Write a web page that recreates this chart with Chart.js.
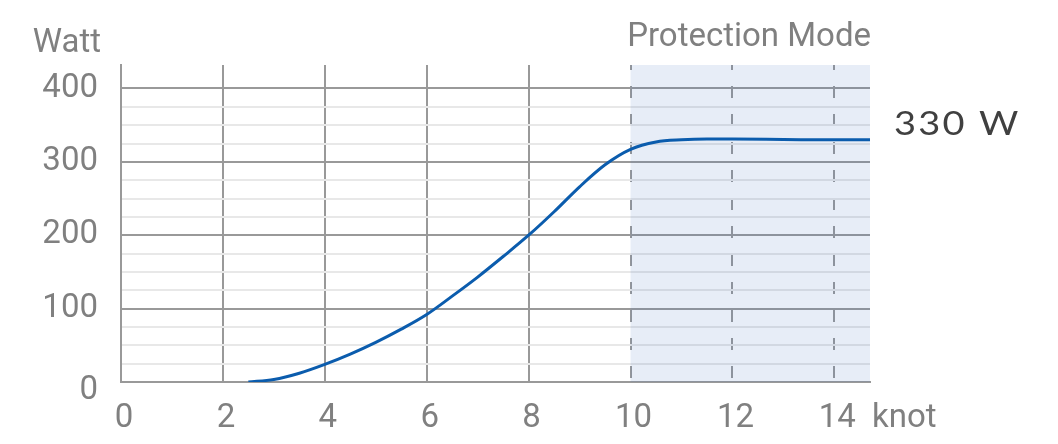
<!DOCTYPE html>
<html>
<head>
<meta charset="utf-8">
<script src="https://cdn.jsdelivr.net/npm/chart.js@4/dist/chart.umd.min.js"></script>
<style>
  html, body { margin: 0; padding: 0; background: #ffffff; }
  #wrap { width: 1058px; height: 444px; position: relative; }
</style>
</head>
<body>
<div id="wrap"><canvas id="c"></canvas></div>
<script>
// ---- data ----
const windKnots = [2.5, 3, 3.5, 4, 4.5, 5, 5.5, 6, 6.5, 7, 7.5, 8, 8.5, 9, 9.5, 10, 10.5, 11, 11.5, 12, 13, 14, 14.7];
const powerWatt = [0, 3.5, 12, 24, 38, 54, 72, 92, 117, 143, 171, 200, 232, 266, 296, 317, 327, 330, 331, 331, 330.5, 330, 330];
const xTicks = [0, 2, 4, 6, 8, 10, 12, 14];
const yTicks = [0, 25, 50, 75, 100, 125, 150, 175, 200, 225, 250, 275, 300, 325, 350, 375, 400];
const yMajorTicks = [0, 100, 200, 300, 400];
const xMin = 0, xMax = 14.7;
const yMin = 0, yMax = 432;
const protectionStart = 10;
const yUnit = 'Watt';
const xUnit = 'knot';
const bandLabel = 'Protection Mode';
const endLabel = '330 W';

const FONT = 'Roboto';
const FSIZE = 33;
const GRAY_TEXT = '#808080';
const GRID = '#999999';
const GRID_MINOR = '#e8e8e8';

const bandPlugin = {
  id: 'band',
  beforeDatasetsDraw(chart) {
    const {ctx, chartArea, scales: {x}} = chart;
    const x0 = x.getPixelForValue(protectionStart);
    ctx.save();
    ctx.fillStyle = 'rgba(60,110,190,0.12)';
    ctx.fillRect(x0, chartArea.top, chartArea.right - x0, chartArea.bottom - chartArea.top);
    ctx.restore();
  }
};

const textPlugin = {
  id: 'texts',
  afterDraw(chart) {
    const {ctx, chartArea, scales: {y}} = chart;
    ctx.save();
    ctx.fillStyle = GRAY_TEXT;
    ctx.font = FSIZE + 'px ' + FONT;
    ctx.textBaseline = 'alphabetic';
    ctx.textAlign = 'right';
    ctx.fillText(yUnit, chartArea.left - 20, chartArea.top - 13);
    ctx.fillText(bandLabel, chartArea.right + 1, chartArea.top - 19);
    ctx.textAlign = 'left';
    ctx.fillText(xUnit, chartArea.right + 2, chartArea.bottom + 45);
    ctx.fillStyle = '#404040';
    ctx.font = '33px Lato';
    ctx.letterSpacing = '2px';
    const yEnd = y.getPixelForValue(powerWatt[powerWatt.length - 1]);
    ctx.translate(chartArea.right + 24, yEnd - 5);
    ctx.scale(1.15, 1);
    ctx.fillText(endLabel, 0, 0);
    ctx.restore();
  }
};

new Chart(document.getElementById('c'), {
  type: 'line',
  data: {
    datasets: [{
      data: windKnots.map((k, i) => ({x: k, y: powerWatt[i]})),
      borderColor: '#0b5cad',
      borderWidth: 3,
      pointRadius: 0,
      fill: false,
      cubicInterpolationMode: 'monotone'
    }]
  },
  options: {
    responsive: true,
    maintainAspectRatio: false,
    animation: false,
    devicePixelRatio: 1,
    layout: { padding: { left: 0, right: 188, top: 65, bottom: 0 } },
    plugins: { legend: { display: false }, tooltip: { enabled: false } },
    scales: {
      x: {
        type: 'linear',
        min: xMin, max: xMax,
        afterBuildTicks(scale) { scale.ticks = xTicks.map(v => ({value: v})); },
        afterFit(scale) { scale.height = 62; },
        grid: {
          color: GRID, lineWidth: 2, drawTicks: false
        },
        border: {
          color: GRID, width: 2,
          dash: ctx => (ctx.tick && ctx.tick.value >= protectionStart) ? [12, 16] : [],
          dashOffset: 7
        },
        ticks: {
          color: GRAY_TEXT, padding: 17, labelOffset: 3,
          font: { family: FONT, size: FSIZE },
          maxRotation: 0, autoSkip: false,
          callback: v => String(v)
        }
      },
      y: {
        type: 'linear',
        min: yMin, max: yMax,
        afterBuildTicks(scale) { scale.ticks = yTicks.map(v => ({value: v})); },
        afterFit(scale) { scale.width = 121; },
        grid: {
          color: ctx => (ctx.tick && yMajorTicks.includes(ctx.tick.value)) ? GRID : GRID_MINOR,
          lineWidth: 2, drawTicks: false
        },
        border: { color: GRID, width: 2 },
        ticks: {
          color: GRAY_TEXT, padding: 23, autoSkip: false,
          font: ctx => (ctx.tick && ctx.tick.value === 0)
            ? { family: FONT, size: FSIZE, lineHeight: '18px' }
            : { family: FONT, size: FSIZE },
          callback: v => v === 0 ? ['', '0'] : (yMajorTicks.includes(v) ? String(v) : '')
        }
      }
    }
  },
  plugins: [bandPlugin, textPlugin]
});
</script>
</body>
</html>
